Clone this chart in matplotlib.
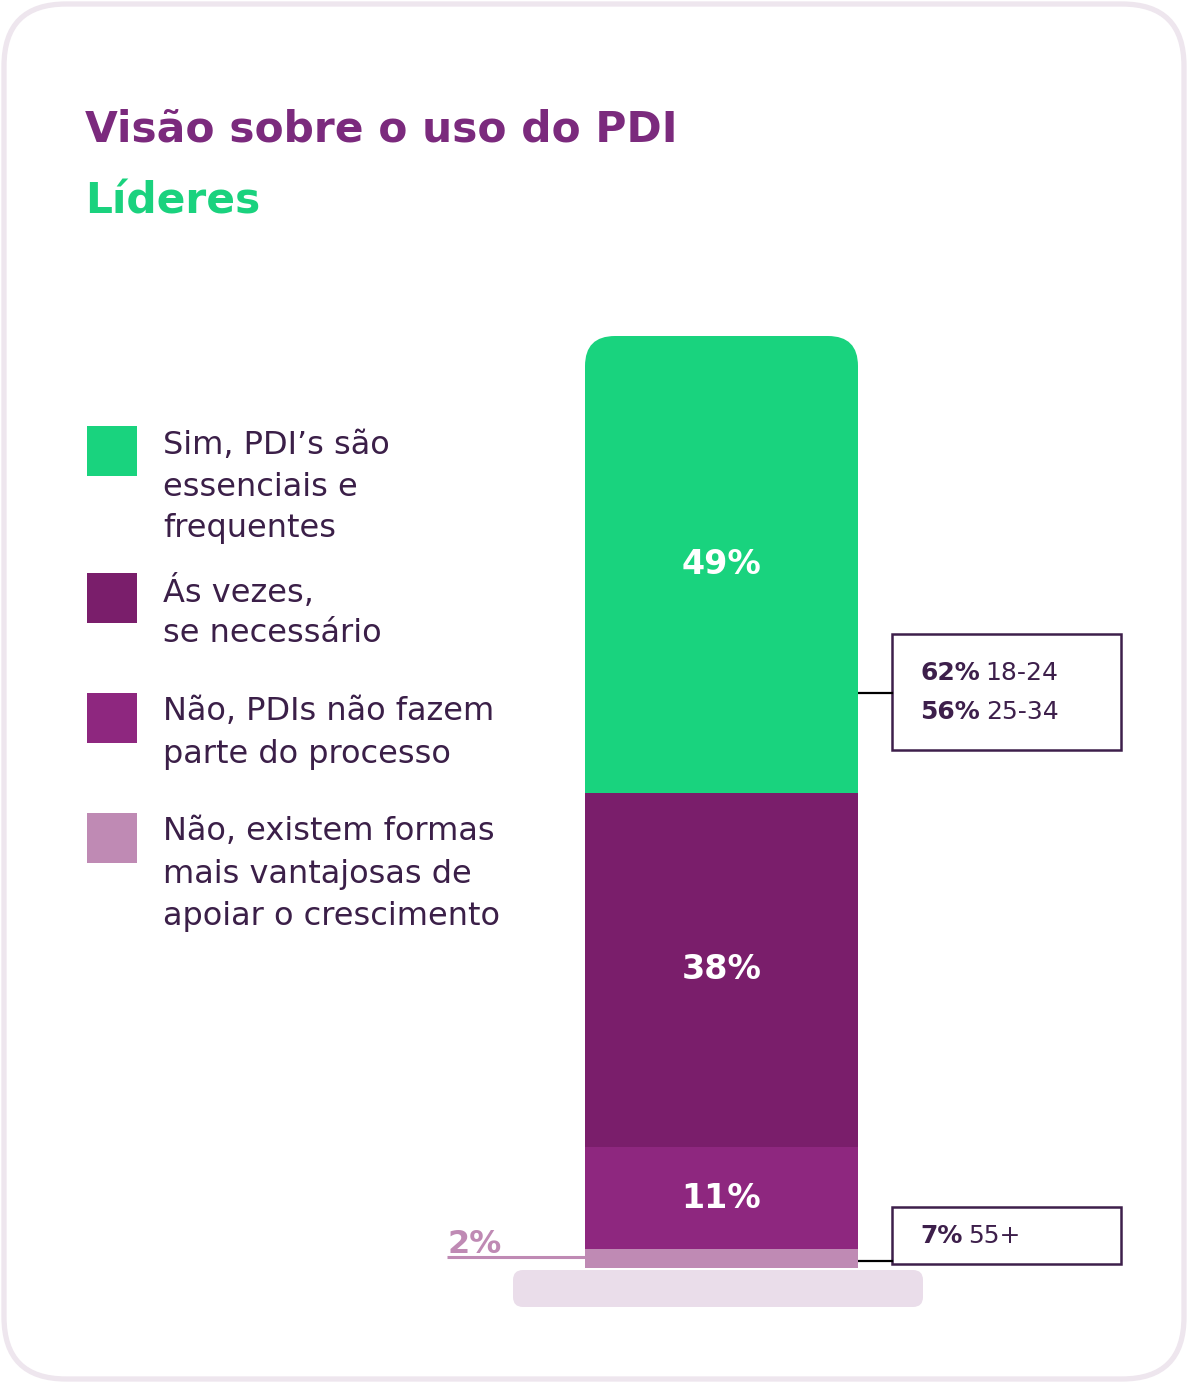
import matplotlib
matplotlib.use("Agg")
import matplotlib.pyplot as plt
from matplotlib.patches import FancyBboxPatch, Rectangle

plt.rcParams['font.family'] = ['DejaVu Sans']

# dados
categorias = ["Sim, PDI’s são\nessenciais e\nfrequentes",
              "Ás vezes,\nse necessário",
              "Não, PDIs não fazem\nparte do processo",
              "Não, existem formas\nmais vantajosas de\napoiar o crescimento"]
valores = [49, 38, 11, 2]
rotulos = ["49%", "38%", "11%", "2%"]
cores = ["#19D37E", "#7A1E6B", "#8E277F", "#BF8AB4"]
destaque_1 = [("62%", "18-24"), ("56%", "25-34")]
destaque_2 = [("7%", "55+")]

W, H = 1188, 1383
fig = plt.figure(figsize=(W / 100, H / 100), dpi=100)
fig.patch.set_facecolor("white")

# fundo em pixels
bg = fig.add_axes([0, 0, 1, 1])
bg.set_xlim(0, W)
bg.set_ylim(H, 0)
bg.axis("off")

card = FancyBboxPatch((4, 4), W - 8, H - 8,
                      boxstyle="round,pad=0,rounding_size=62",
                      facecolor="white", edgecolor="#EEE6EE", lw=3.8)
bg.add_patch(card)

bg.text(85, 141, "Visão sobre o uso do PDI", fontsize=30.5, fontweight="bold",
        color="#7B2A7D", va="baseline")
bg.text(85, 213, "Líderes", fontsize=30.5, fontweight="bold",
        color="#1AD27E", va="baseline")

# legenda
texto_cor = "#3B1F48"
topos = [426, 573, 693, 813]
for cat, cor, y0 in zip(categorias, cores, topos):
    bg.add_patch(Rectangle((87, y0), 50, 50, facecolor=cor, edgecolor="none"))
    for i, linha in enumerate(cat.split("\n")):
        bg.text(163, y0 + 19 + 42 * i, linha, fontsize=23, color=texto_cor,
                va="center", ha="left")

# pedestal
bg.add_patch(FancyBboxPatch((513, 1270), 410, 37,
                            boxstyle="round,pad=0,rounding_size=10",
                            facecolor="#EADDEA", edgecolor="none"))

# eixo da barra
px_unit = 932 / 100.0
ax_top, ax_bot = 320, 1320
ax_left, ax_right = 430, 1150
ax = fig.add_axes([ax_left / W, (H - ax_bot) / H,
                   (ax_right - ax_left) / W, (ax_bot - ax_top) / H])
ax.patch.set_alpha(0)
ax.axis("off")
bar_w = 273
ax.set_xlim((ax_left - 721.5) / bar_w, (ax_right - 721.5) / bar_w)
ax.set_ylim(-(ax_bot - 1268) / px_unit, (1268 - ax_top) / px_unit)

base = 0
barras = []
for v, cor in zip(valores[::-1], cores[::-1]):
    b = ax.bar(0, v, width=1.0, bottom=base, color=cor, edgecolor="none")
    barras.append(b[0])
    base += v

# cantos arredondados no topo
aspect = (bar_w) / px_unit
clip = FancyBboxPatch((-0.5, -20), 1.0, 20 + sum(valores),
                      boxstyle="round,pad=0,rounding_size=0.11",
                      mutation_aspect=aspect, transform=ax.transData,
                      facecolor="none", edgecolor="none")
ax.add_patch(clip)
for b in barras:
    b.set_clip_path(clip)

# rótulos
acum = 0
meios = []
for v in valores[::-1]:
    meios.append(acum + v / 2)
    acum += v
meios = meios[::-1]
for rot, m in list(zip(rotulos, meios))[:3]:
    ax.text(0, m, rot, ha="center", va="center", color="white",
            fontsize=24, fontweight="bold")

# 2%
bg.text(447, 1253, rotulos[3], fontsize=23, fontweight="bold",
        color=cores[3], va="baseline")
bg.plot([447, 585], [1257, 1257], color=cores[3], lw=2.2,
        solid_capstyle="butt")

# caixas de destaque
caixa_cor = "#3D1F4B"
bg.plot([858, 892], [693, 693], color="black", lw=1.6)
bg.plot([858, 892], [1261, 1261], color="black", lw=1.6)
bg.add_patch(Rectangle((892, 634), 229, 116, facecolor="white",
                       edgecolor=caixa_cor, lw=1.8))
bg.add_patch(Rectangle((892, 1207), 229, 57, facecolor="white",
                       edgecolor=caixa_cor, lw=1.8))

fig.canvas.draw()
renderer = fig.canvas.get_renderer()


def linha_destaque(y, negrito, normal):
    t = bg.text(920, y, negrito, fontsize=18, fontweight="bold",
                color=caixa_cor, va="center")
    bb = t.get_window_extent(renderer)
    x1 = bg.transData.inverted().transform((bb.x1, bb.y0))[0]
    bg.text(x1 + 6, y, normal, fontsize=18, color=caixa_cor, va="center")


for i, (n, r) in enumerate(destaque_1):
    linha_destaque(673 + 39 * i, n, r)
for n, r in destaque_2:
    linha_destaque(1236, n, r)

fig.savefig("out.png", dpi=100)
